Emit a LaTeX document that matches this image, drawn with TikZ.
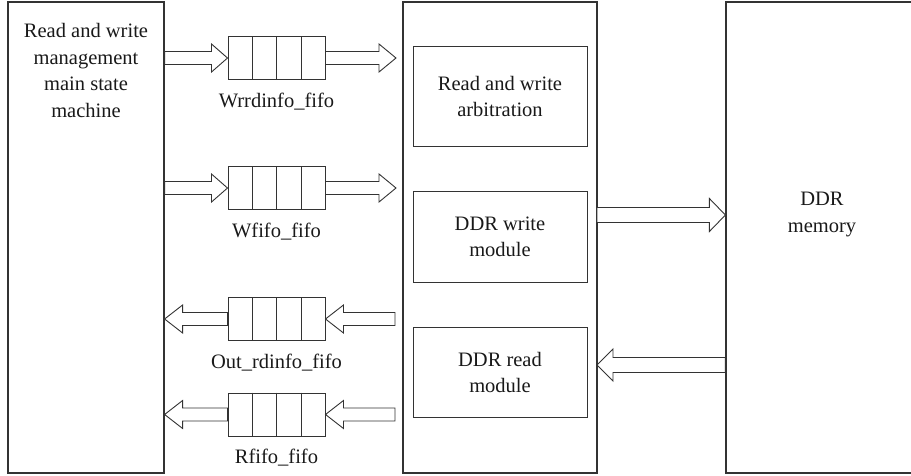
\documentclass[tikz,border=0pt]{standalone}
\usepackage{fontspec}
\setmainfont{Liberation Serif}
\usetikzlibrary{calc}
\newcommand\blockarrow[5]{% tail, tip, shaft half, head half, head length
  \draw[barrow] let \p1=(#1), \p2=(#2), \n1={(\x2>\x1)?1:-1} in
    (\x1,{\y1+#3}) -- ({\x2-\n1*#5},{\y1+#3}) -- ({\x2-\n1*#5},{\y1+#4}) --
    (\x2,\y1) -- ({\x2-\n1*#5},{\y1-#4}) -- ({\x2-\n1*#5},{\y1-#3}) --
    (\x1,{\y1-#3}) -- cycle;}
\begin{document}
\begin{tikzpicture}[x=1pt,y=-1pt,
  frame/.style={draw=black!80,line width=1.2pt,inner sep=0pt},
  inbox/.style={draw=black!80,line width=1pt,inner sep=0pt,minimum width=174pt,
     font=\fontsize{20.5}{26}\selectfont,text=black!90,align=center},
  fifobox/.style={draw=black!80,line width=1pt,minimum width=97pt,minimum height=43pt,inner sep=0pt},
  barrow/.style={draw=black!80,line width=0.9pt,fill=white,line join=miter},
  lbl/.style={font=\fontsize{20.5}{26.5}\selectfont,text=black!90,align=center,inner sep=0pt},
]
\useasboundingbox (0,0) rectangle (911,475);

% outer frames
\node[frame,minimum width=156pt,minimum height=471pt] (mgr) at (86,237.5) {};
\node[frame,minimum width=194pt,minimum height=471pt] (ctrl) at (500,237.5) {};
\node[frame,minimum width=194pt,minimum height=471pt] (ddr) at (823,237.5) {};

\node[lbl] (mgrtxt) at (86,70.5) {Read and write\\management\\main state\\machine};
\node[lbl] (ddrtxt) at (822,214.5) {DDR\\memory};

% inner modules
\node[inbox,minimum height=100pt] (arb) at (500,96) {Read and write\\arbitration};
\node[inbox,minimum height=91pt] (wr) at (500,236.5) {DDR write\\module};
\node[inbox,minimum height=90pt] (rd) at (500,372) {DDR read\\module};

% fifos
\foreach \n/\y/\t in {f1/58/Wrrdinfo\_fifo, f2/188/Wfifo\_fifo, f3/319/Out\_rdinfo\_fifo, f4/414.5/Rfifo\_fifo}{
  \node[fifobox] (\n) at (276.5,\y) {};
  \foreach \k in {1,2,3}
    \draw[draw=black!80,line width=1pt] ($(\n.north west)!\k/4!(\n.north east)$) -- ($(\n.south west)!\k/4!(\n.south east)$);
  \node[lbl,anchor=base] (\n lbl) at (276.5,{\y+49}) {\t};
}

% free ends of the fifo arrows
\coordinate (o1) at (396,58);
\coordinate (o2) at (396,188);
\coordinate (o3) at (395,319);
\coordinate (o4) at (395,414.5);

% write direction
\blockarrow{mgr.east |- f1.west}{f1.west}{6.5pt}{14pt}{16pt}
\blockarrow{f1.east}{o1}{6.5pt}{14pt}{17pt}
\blockarrow{mgr.east |- f2.west}{f2.west}{6.5pt}{14pt}{16pt}
\blockarrow{f2.east}{o2}{6.5pt}{14pt}{17pt}
% read direction
\blockarrow{o3}{f3.east}{6.5pt}{14pt}{18pt}
\blockarrow{f3.west}{mgr.east |- f3.west}{6.5pt}{14pt}{18pt}
\blockarrow{o4}{f4.east}{6.5pt}{14pt}{18pt}
\blockarrow{f4.west}{mgr.east |- f4.west}{6.5pt}{14pt}{18pt}

% controller <-> DDR
\coordinate (dw) at (597,215);
\coordinate (dr) at (597,365);
\blockarrow{dw}{ddr.west |- dw}{7.5pt}{16.5pt}{16pt}
\blockarrow{ddr.west |- dr}{dr}{7.5pt}{16pt}{16pt}
\end{tikzpicture}
\end{document}
